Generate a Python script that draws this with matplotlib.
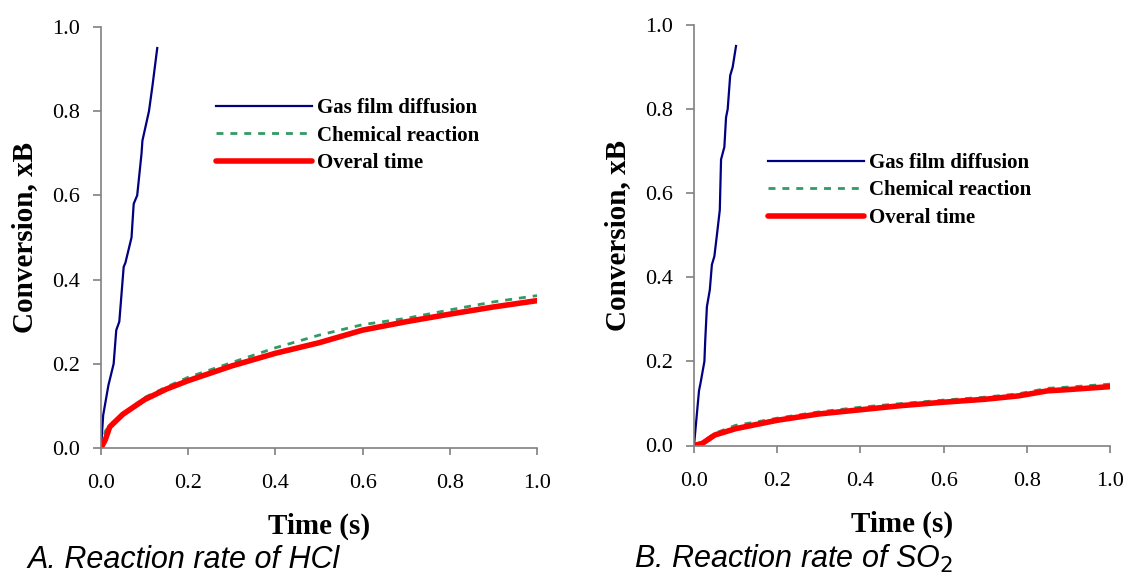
import numpy as np
import matplotlib.pyplot as plt

# ── data ────────────────────────────────────────────────────────────────────
# Panel A: HCl
hcl_gas_t = [0, 0.005, 0.017, 0.029, 0.035, 0.042, 0.052, 0.056, 0.07, 0.075,
             0.083, 0.093, 0.095, 0.11, 0.118, 0.129]
hcl_gas_x = [0, 0.078, 0.149, 0.20, 0.28, 0.30, 0.43, 0.44, 0.50, 0.58,
             0.60, 0.70, 0.73, 0.80, 0.86, 0.95]
hcl_t = [0, 0.01, 0.02, 0.05, 0.1, 0.15, 0.2, 0.3, 0.4, 0.5, 0.6, 0.7, 0.8, 0.9, 1.0]
hcl_chem_x = [0, 0.04, 0.055, 0.08, 0.12, 0.145, 0.168, 0.203, 0.238, 0.268,
              0.293, 0.308, 0.328, 0.347, 0.362]
hcl_overall_x = [0, 0.02, 0.05, 0.08, 0.115, 0.14, 0.16, 0.195, 0.225, 0.25,
                 0.28, 0.30, 0.318, 0.335, 0.35]

# Panel B: SO2
so2_gas_t = [0, 0.012, 0.016, 0.025, 0.027, 0.031, 0.038, 0.043, 0.049, 0.055,
             0.062, 0.065, 0.073, 0.077, 0.081, 0.087, 0.093, 0.101]
so2_gas_x = [0, 0.13, 0.15, 0.20, 0.25, 0.33, 0.37, 0.43, 0.45, 0.50,
             0.56, 0.68, 0.71, 0.78, 0.80, 0.88, 0.90, 0.95]
so2_t = [0, 0.02, 0.05, 0.1, 0.15, 0.2, 0.3, 0.4, 0.5, 0.6, 0.7, 0.78, 0.85, 0.9, 1.0]
so2_chem_x = [0, 0.008, 0.029, 0.048, 0.056, 0.065, 0.080, 0.091, 0.100, 0.108,
              0.115, 0.123, 0.136, 0.139, 0.146]
so2_overall_x = [0, 0.005, 0.025, 0.04, 0.05, 0.06, 0.075, 0.085, 0.095, 0.103,
                 0.11, 0.118, 0.13, 0.133, 0.14]

labels = ["Gas film diffusion", "Chemical reaction", "Overal time"]
ticks = [0.0, 0.2, 0.4, 0.6, 0.8, 1.0]

SERIF = "Liberation Serif"
SANS = "Liberation Sans"
AXIS_GREY = "#808080"

fig = plt.figure(figsize=(11.26, 5.76), dpi=100)
W, H = 1126, 576


def _axes(left, top, right, bottom):
    return fig.add_axes([left / W, 1 - bottom / H, (right - left) / W, (bottom - top) / H])


def draw_panel(ax, gas_t, gas_x, t, chem_x, overall_x, leg_anchor):
    ax.plot(gas_t, gas_x, color="#000080", lw=1.6, label=labels[0])
    ax.plot(t, chem_x, color="#339966", lw=2.0, ls=(0, (2.5, 2.5)), label=labels[1])
    ax.plot(t, overall_x, color="#FF0000", lw=4.0, solid_capstyle="round", label=labels[2])
    ax.set_xlim(0, 1.0)
    ax.set_ylim(0, 1.0)
    ax.set_xticks(ticks)
    ax.set_yticks(ticks)
    ax.set_xticklabels([f"{v:.1f}" for v in ticks], fontfamily=SERIF, fontsize=16)
    ax.set_yticklabels([f"{v:.1f}" for v in ticks], fontfamily=SERIF, fontsize=16)
    for s in ("top", "right"):
        ax.spines[s].set_visible(False)
    for s in ("left", "bottom"):
        ax.spines[s].set_color(AXIS_GREY)
        ax.spines[s].set_linewidth(1.2)
    ax.tick_params(axis="x", direction="out", length=5, width=1.2, color=AXIS_GREY, pad=14)
    ax.tick_params(axis="y", direction="out", length=6, width=1.2, color=AXIS_GREY, pad=9)
    ax.set_xlabel("Time (s)", fontfamily=SERIF, fontweight="bold", fontsize=21, labelpad=14)
    ax.set_ylabel("Conversion, xB", fontfamily=SERIF, fontweight="bold", fontsize=21, labelpad=10)
    ax.legend(loc="upper left", bbox_to_anchor=leg_anchor, frameon=False,
              prop={"family": SERIF, "weight": "bold", "size": 15},
              handlelength=4.6, handletextpad=0.25, labelspacing=0.36,
              borderpad=0, borderaxespad=0)


axA = _axes(101, 27, 537, 448)
draw_panel(axA, hcl_gas_t, hcl_gas_x, hcl_t, hcl_chem_x, hcl_overall_x, (0.264, 0.831))

axB = _axes(694, 25, 1110, 445.5)
draw_panel(axB, so2_gas_t, so2_gas_x, so2_t, so2_chem_x, so2_overall_x, (0.178, 0.696))

fig.text(27 / W, 1 - 568 / H, "A. Reaction rate of HCl", fontfamily=SANS, style="italic",
         fontsize=22, va="baseline", ha="left")
fig.text(634 / W, 1 - 568 / H, "B. Reaction rate of SO$_2$", fontfamily=SANS, style="italic",
         fontsize=22, va="baseline", ha="left")

fig.savefig("out.png", dpi=100)
